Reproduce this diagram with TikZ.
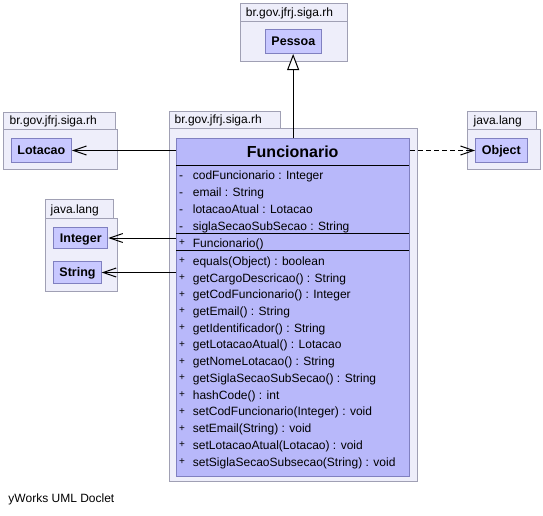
\documentclass[tikz,border=0pt]{standalone}
\usepackage{fontspec}
\setmainfont{Liberation Sans}
\usetikzlibrary{arrows.meta}
\definecolor{pkgfill}{RGB}{238,238,250}
\definecolor{pkgdraw}{RGB}{160,160,180}
\definecolor{clsfill}{RGB}{200,200,255}
\definecolor{clsdraw}{RGB}{128,128,192}
\definecolor{mainfill}{RGB}{184,184,250}
\tikzset{
  pkg/.style={fill=pkgfill, draw=pkgdraw, line width=1pt},
  pkglabel/.style={anchor=base west, inner sep=0pt, font=\fontsize{12}{14}\selectfont},
  cls/.style={fill=clsfill, draw=clsdraw, line width=1pt, inner sep=0pt, anchor=north west,
    text height=8.8pt, text depth=0pt, font=\fontsize{12.5}{14}\selectfont\bfseries},
  maincls/.style={fill=mainfill, draw=clsdraw, line width=1pt, inner sep=0pt, anchor=north west},
  member/.style={anchor=base west, inner sep=0pt, font=\fontsize{12}{14}\selectfont},
  marker/.style={anchor=base, inner sep=0pt, font=\fontsize{12}{14}\selectfont},
  plusmark/.style={anchor=base, inner sep=0pt, font=\fontsize{10}{12}\selectfont},
  sep/.style={draw=black, line width=1pt},
  gen/.style={line width=1pt, -{Triangle[length=16pt,width=12pt,fill=white,line width=1pt]}},
  assoc/.style={line width=1pt, -{Straight Barb[length=13pt,width=9pt,line width=1pt]}},
  dep/.style={line width=1pt, dash pattern=on 5pt off 3pt, -{Straight Barb[length=13pt,width=9pt,line width=1pt]}}
}
\begin{document}
\begin{tikzpicture}[x=1pt,y=-1pt]
\useasboundingbox (0,0) rectangle (543,515);
\fill[white] (0,0) rectangle (543,515);

% packages
% Pessoa package
\draw[pkg] (240.3,3) rectangle (347.7,21);
\draw[pkg] (240.3,21) rectangle (347.7,61);
\node[pkglabel] (pk1) at (245.7,16.5) {br.gov.jfrj.siga.rh};
% Lotacao package
\draw[pkg] (3,112) rectangle (115,129);
\draw[pkg] (3,129) rectangle (117,169);
\node[pkglabel] (pk2) at (9.5,124.5) {br.gov.jfrj.siga.rh};
% java.lang Integer/String
\draw[pkg] (45,199.3) rectangle (113.3,218.3);
\draw[pkg] (45,218.3) rectangle (117.3,291.7);
\node[pkglabel] (pk3) at (50.5,213.5) {java.lang};
% java.lang Object
\draw[pkg] (467.7,111.7) rectangle (536.7,129.3);
\draw[pkg] (467.7,129.3) rectangle (540.7,169);
\node[pkglabel] (pk4) at (473.5,124.5) {java.lang};
% Funcionario package
\draw[pkg] (169,111.7) rectangle (280,128);
\draw[pkg] (169,128) rectangle (417.7,481);
\node[pkglabel] (pk5) at (174.5,123.5) {br.gov.jfrj.siga.rh};

% small classes
\node[cls, minimum width=55.7pt, minimum height=24pt] (pessoa) at (265,29) {Pessoa};
\node[cls, minimum width=60.3pt, minimum height=23.4pt] (lotacao) at (10.7,138.3) {Lotacao};
\node[cls, minimum width=51.7pt, minimum height=23.4pt] (object) at (475,138.3) {Object};
\node[cls, minimum width=54pt, minimum height=21.6pt] (integer) at (53.3,226.7) {Integer};
\node[cls, minimum width=47.4pt, minimum height=22.6pt] (string) at (53.3,260.7) {String};

% main class
\node[maincls, minimum width=233.3pt, minimum height=337.7pt] (func) at (176,138.3) {};
\node[anchor=center, inner sep=0pt, text height=11.5pt, text depth=0pt,
  font=\fontsize{16}{18}\selectfont\bfseries] (title) at (292.7,151.7) {Funcionario};
\draw[sep] (176,165) -- (409.3,165);
\draw[sep] (176,233.3) -- (409.3,233.3);
\draw[sep] (176,250.7) -- (409.3,250.7);

\foreach \t [count=\i from 0] in {codFuncionario : Integer, email : String, lotacaoAtual : Lotacao, siglaSecaoSubSecao : String}{
  \node[marker] (am\i) at (181,{179.3+16.9*\i}) {-};
  \node[member] (a\i) at (192.7,{179.3+16.9*\i}) {\t};
}
\node[plusmark] (cm) at (182,245.5) {+};
\node[member] (c0) at (192.7,247) {Funcionario()};
\foreach \t [count=\i from 0] in {equals(Object) : boolean, getCargoDescricao() : String, getCodFuncionario() : Integer, getEmail() : String, getIdentificador() : String, getLotacaoAtual() : Lotacao, getNomeLotacao() : String, getSiglaSecaoSubSecao() : String, hashCode() : int, setCodFuncionario(Integer) : void, setEmail(String) : void, setLotacaoAtual(Lotacao) : void, setSiglaSecaoSubsecao(String) : void}{
  \node[plusmark] (mm\i) at (182,{263.8+16.73*\i}) {+};
  \node[member] (m\i) at (192.7,{265.3+16.73*\i}) {\t};
}

% connectors
\draw[gen] (func.north) -- (func.north |- pessoa.south);
\draw[assoc] (lotacao.east -| func.west) -- (lotacao.east);
\draw[assoc] (integer.east -| func.west) -- (integer.east);
\draw[assoc] (string.east -| func.west) -- (string.east);
\draw[dep] (object.west -| func.east) -- (object.west);

\node[anchor=base west, inner sep=0pt, font=\fontsize{12}{14}\selectfont] (footer) at (8.3,502) {yWorks UML Doclet};
\end{tikzpicture}
\end{document}
